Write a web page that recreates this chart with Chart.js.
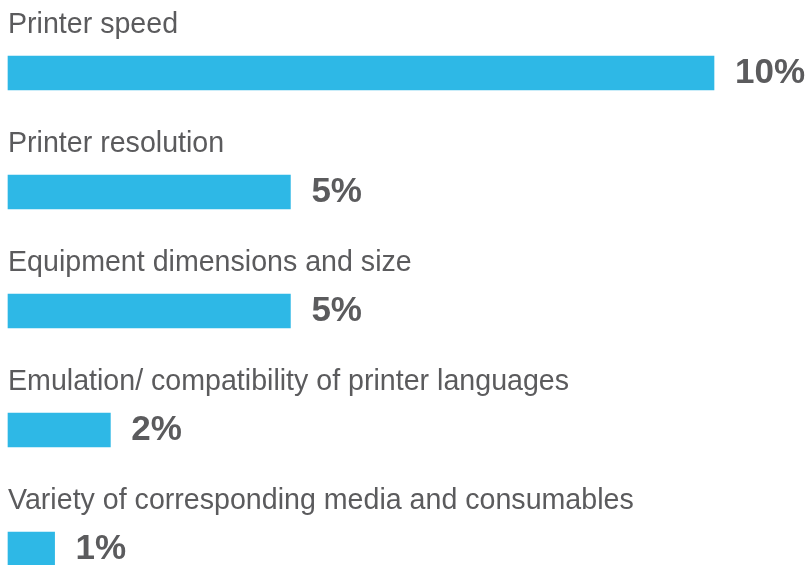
<!DOCTYPE html>
<html>
<head>
<meta charset="utf-8">
<title>Printer criteria</title>
<script src="https://cdn.jsdelivr.net/npm/chart.js@4.4.1/dist/chart.umd.min.js"></script>
<style>
  html, body { margin: 0; padding: 0; background: #ffffff; }
  .chart-box { width: 806px; height: 565px; position: relative; }
</style>
</head>
<body>
<div class="chart-box">
  <canvas id="criteria-chart"></canvas>
</div>
<script>
// Chart data
const criteria = [
  'Printer speed',
  'Printer resolution',
  'Equipment dimensions and size',
  'Emulation/ compatibility of printer languages',
  'Variety of corresponding media and consumables'
];

// shares printed next to each bar
const shares = [10, 5, 5, 2, 1];

// bar lengths as drawn in the picture (the original is not to scale with the shares)
const barLengths = [10, 4.0, 4.0, 1.45, 0.66];

const barColor = '#2eb8e6';
const textColor = '#5b5b5d';
const fontFamily = '"Liberation Sans", Arial, Helvetica, sans-serif';

// Labels above bars + value labels to the right
const barLabels = {
  id: 'barLabels',
  afterDatasetsDraw(chart) {
    const ctx = chart.ctx;
    const meta = chart.getDatasetMeta(0);
    const left = chart.chartArea.left;

    ctx.save();
    ctx.fillStyle = textColor;
    ctx.textBaseline = 'alphabetic';

    meta.data.forEach((bar, i) => {
      const half = bar.height / 2;

      ctx.font = '28.6px ' + fontFamily;
      ctx.textAlign = 'left';
      ctx.fillText(criteria[i], left, bar.y - half - 23);

      ctx.font = 'bold 35px ' + fontFamily;
      ctx.fillText(shares[i] + '%', bar.x + 21, bar.y + 10);
    });
    ctx.restore();
  }
};

const config = {
  type: 'bar',
  data: {
    labels: criteria,
    datasets: [{
      data: barLengths,
      backgroundColor: barColor,
      borderWidth: 0,
      barThickness: 34,
      clip: false
    }]
  },
  options: {
    indexAxis: 'y',
    responsive: true,
    maintainAspectRatio: false,
    animation: false,
    layout: {
      padding: { left: 8, right: 92, top: 73, bottom: 16 }
    },
    scales: {
      x: {
        display: false,
        min: 0,
        max: 10
      },
      y: {
        display: false,
        offset: false
      }
    },
    plugins: {
      legend: { display: false },
      tooltip: { enabled: false }
    }
  },
  plugins: [barLabels]
};

const criteriaChart = new Chart(
  document.getElementById('criteria-chart'),
  config
);
</script>
</body>
</html>
